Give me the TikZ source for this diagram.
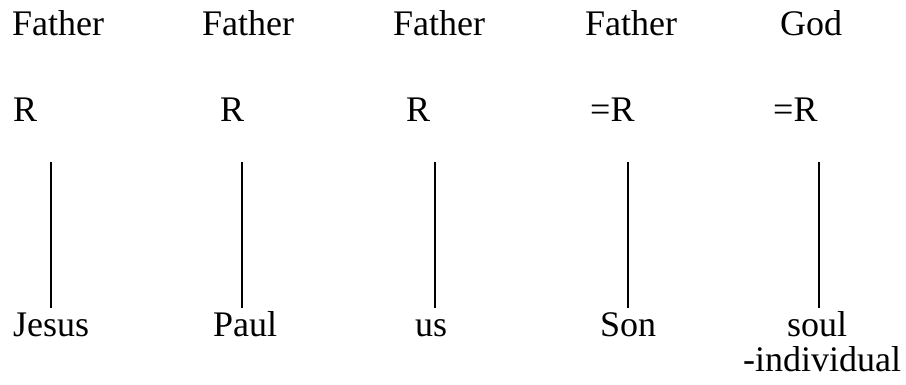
\documentclass[tikz,border=0pt]{standalone}
\usepackage{fontspec}
\setmainfont{Liberation Serif}
\begin{document}
\begin{tikzpicture}[x=1pt,y=-1pt,
  lbl/.style={anchor=base west,inner sep=0pt,font=\fontsize{36}{40}\selectfont},
  link/.style={draw=black,line width=1.4pt}]
\useasboundingbox (0,0) rectangle (906,385);
% top row
\node[lbl] (f1) at (12,36) {Father};
\node[lbl] (f2) at (202,36) {Father};
\node[lbl] (f3) at (393,36) {Father};
\node[lbl] (f4) at (585,36) {Father};
\node[lbl] (f5) at (780,36) {God};
% R row
\node[lbl] (r1) at (13,122) {R};
\node[lbl] (r2) at (220,122) {R};
\node[lbl] (r3) at (406,122) {R};
\node[lbl] (r4) at (590,122) {=R};
\node[lbl] (r5) at (773,122) {=R};
% bottom row
\node[lbl] (b1) at (13,336) {Jesus};
\node[lbl] (b2) at (213,336) {Paul};
\node[lbl] (b3) at (415,336) {us};
\node[lbl] (b4) at (600,336) {Son};
\node[lbl] (b5) at (787,336) {soul};
\node[lbl] (b6) at (743,371) {-individual};
% line ends
\coordinate (t1) at (51,162);  \coordinate (e1) at (51,308);
\coordinate (t2) at (242,162); \coordinate (e2) at (242,308);
\coordinate (t3) at (435,162); \coordinate (e3) at (435,308);
\coordinate (t4) at (628,162); \coordinate (e4) at (628,308);
\coordinate (t5) at (819,162); \coordinate (e5) at (819,308);
\foreach \i in {1,...,5} {\draw[link] (t\i) -- (e\i);}
\end{tikzpicture}
\end{document}
